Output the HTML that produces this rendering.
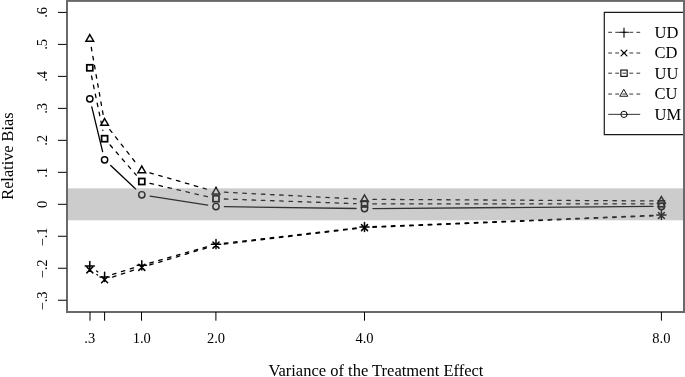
<!DOCTYPE html>
<html lang="en"><head><meta charset="utf-8"><title>Relative Bias vs Variance of the Treatment Effect</title>
<style>html,body{margin:0;padding:0;background:#fff}svg{display:block;will-change:transform;transform:translateZ(0)}</style></head>
<body>
<svg width="685" height="377" viewBox="0 0 685 377">
<rect width="685" height="377" fill="#fff"/>
<g fill="none" stroke="#000" stroke-width="1.3" stroke-linecap="round" stroke-linejoin="miter">
<g>
<line x1="91.78" y1="106.96" x2="102.62" y2="151.64"/>
<line x1="110.72" y1="165.55" x2="135.68" y2="189"/>
<line x1="150.1" y1="196.06" x2="207.7" y2="205.19"/>
<line x1="224.4" y1="206.62" x2="356.1" y2="208.48"/>
<line x1="372.9" y1="208.54" x2="653" y2="206.46"/>
</g>
<g stroke-width="1.45"><circle cx="89.8" cy="98.8" r="3.15"/><circle cx="104.6" cy="159.8" r="3.15"/><circle cx="141.8" cy="194.75" r="3.15"/><circle cx="216" cy="206.5" r="3.15"/><circle cx="364.5" cy="208.6" r="3.15"/><circle cx="661.4" cy="206.4" r="3.15"/></g>
<g stroke-dasharray="3.55 5.68">
<line x1="91.26" y1="47.27" x2="103.14" y2="114.73"/>
<line x1="109.78" y1="129.61" x2="136.62" y2="163.89"/>
<line x1="149.87" y1="172.82" x2="207.93" y2="189.48"/>
<line x1="224.39" y1="192.22" x2="356.11" y2="198.88"/>
<line x1="372.9" y1="199.35" x2="653" y2="200.95"/>
</g>
<g stroke-width="1.45"><path d="M89.8 34.55L93.65 41.23L85.95 41.23Z"/><path d="M104.6 118.55L108.45 125.22L100.75 125.22Z"/><path d="M141.8 166.05L145.65 172.72L137.95 172.72Z"/><path d="M216 187.35L219.85 194.03L212.15 194.03Z"/><path d="M364.5 194.85L368.35 201.53L360.65 201.53Z"/><path d="M661.4 196.55L665.25 203.22L657.55 203.22Z"/></g>
<g stroke-dasharray="3.55 5.68">
<line x1="91.52" y1="76.02" x2="102.88" y2="130.48"/>
<line x1="110.11" y1="145.04" x2="136.29" y2="175.16"/>
<line x1="149.98" y1="183.4" x2="207.82" y2="196.8"/>
<line x1="224.39" y1="199" x2="356.11" y2="203.65"/>
<line x1="372.9" y1="203.95" x2="653" y2="203.8"/>
</g>
<g stroke-width="1.75"><rect x="86.8" y="64.8" width="6" height="6"/><rect x="101.6" y="135.7" width="6" height="6"/><rect x="138.8" y="178.5" width="6" height="6"/><rect x="213" y="195.7" width="6" height="6"/><rect x="361.5" y="200.95" width="6" height="6"/><rect x="658.4" y="200.8" width="6" height="6"/></g>
<g stroke-dasharray="3.55 5.68">
<line x1="96.8" y1="274.54" x2="97.6" y2="275.06"/>
<line x1="112.58" y1="277.06" x2="133.82" y2="270.04"/>
<line x1="149.84" y1="264.98" x2="207.96" y2="247.52"/>
<line x1="224.34" y1="244.12" x2="356.16" y2="228.58"/>
<line x1="372.89" y1="227.26" x2="653.01" y2="215.84"/>
</g>
<g stroke-width="1.5"><path d="M86.8 266.9L92.8 272.9M86.8 272.9L92.8 266.9"/><path d="M101.6 276.7L107.6 282.7M101.6 282.7L107.6 276.7"/><path d="M138.8 264.4L144.8 270.4M138.8 270.4L144.8 264.4"/><path d="M213 242.1L219 248.1M213 248.1L219 242.1"/><path d="M361.5 224.6L367.5 230.6M361.5 230.6L367.5 224.6"/><path d="M658.4 212.5L664.4 218.5M658.4 218.5L664.4 212.5"/></g>
<g stroke-dasharray="3.55 5.68">
<line x1="96.56" y1="270.98" x2="97.84" y2="271.92"/>
<line x1="112.62" y1="274.4" x2="133.78" y2="267.8"/>
<line x1="149.88" y1="263" x2="207.92" y2="246.5"/>
<line x1="224.34" y1="243.23" x2="356.16" y2="227.97"/>
<line x1="372.89" y1="226.66" x2="653.01" y2="215.34"/>
</g>
<g stroke-width="1.5"><path d="M85.2 266H94.4M89.8 261.4V270.6"/><path d="M100 276.9H109.2M104.6 272.3V281.5"/><path d="M137.2 265.3H146.4M141.8 260.7V269.9"/><path d="M211.4 244.2H220.6M216 239.6V248.8"/><path d="M359.9 227H369.1M364.5 222.4V231.6"/><path d="M656.8 215H666M661.4 210.4V219.6"/></g>
</g>
<rect x="67" y="188.31" width="617" height="31.98" fill="#7f7f7f" fill-opacity="0.4"/>
<rect x="67" y="0.9" width="617" height="311.1" fill="none" stroke="#696969" stroke-width="2"/>
<g stroke="#000" stroke-width="1" fill="none">
<line x1="58" y1="12.42" x2="66.6" y2="12.42"/>
<line x1="58" y1="44.4" x2="66.6" y2="44.4"/>
<line x1="58" y1="76.38" x2="66.6" y2="76.38"/>
<line x1="58" y1="108.36" x2="66.6" y2="108.36"/>
<line x1="58" y1="140.34" x2="66.6" y2="140.34"/>
<line x1="58" y1="172.32" x2="66.6" y2="172.32"/>
<line x1="58" y1="204.3" x2="66.6" y2="204.3"/>
<line x1="58" y1="236.28" x2="66.6" y2="236.28"/>
<line x1="58" y1="268.26" x2="66.6" y2="268.26"/>
<line x1="58" y1="300.24" x2="66.6" y2="300.24"/>
<line x1="90" y1="312" x2="90" y2="320.7"/>
<line x1="104.6" y1="312" x2="104.6" y2="320.7"/>
<line x1="141.5" y1="312" x2="141.5" y2="320.7"/>
<line x1="215.9" y1="312" x2="215.9" y2="320.7"/>
<line x1="364.5" y1="312" x2="364.5" y2="320.7"/>
<line x1="661.4" y1="312" x2="661.4" y2="320.7"/>
</g>
<g font-family="'Liberation Serif', 'Times New Roman', serif" fill="#000">
<g font-size="14.5" text-anchor="middle">
<text transform="translate(47.4 12.42) rotate(-90)">.6</text>
<text transform="translate(47.4 44.4) rotate(-90)">.5</text>
<text transform="translate(47.4 76.38) rotate(-90)">.4</text>
<text transform="translate(47.4 108.36) rotate(-90)">.3</text>
<text transform="translate(47.4 140.34) rotate(-90)">.2</text>
<text transform="translate(47.4 172.32) rotate(-90)">.1</text>
<text transform="translate(47.4 204.3) rotate(-90)">0</text>
<text transform="translate(47.4 236.98) rotate(-90)">−.1</text>
<text transform="translate(47.4 268.96) rotate(-90)">−.2</text>
<text transform="translate(47.4 300.94) rotate(-90)">−.3</text>
<text x="89.8" y="342.6">.3</text>
<text x="141.8" y="342.6">1.0</text>
<text x="216" y="342.6">2.0</text>
<text x="364.5" y="342.6">4.0</text>
<text x="661.4" y="342.6">8.0</text>
</g>
<g font-size="16.5">
<text x="375.9" y="376" text-anchor="middle">Variance of the Treatment Effect</text>
<text transform="translate(12.7 156.1) rotate(-90)" text-anchor="middle" font-size="16.3">Relative Bias</text>
<text x="654.6" y="37.8">UD</text>
<text x="654.6" y="58.25">CD</text>
<text x="654.6" y="78.7">UU</text>
<text x="654.6" y="99.15">CU</text>
<text x="654.6" y="119.6">UM</text>
</g></g>
<path d="M683 12.45H604.3V134.7H683" fill="none" stroke="#1a1a1a" stroke-width="1.2"/>
<g fill="none" stroke="#000" stroke-width="0.8" stroke-linecap="round">
<line x1="608.6" y1="32.3" x2="639.8" y2="32.3" stroke-dasharray="3.0 4.05"/>
<g stroke-width="1.1"><path d="M619.5 32.3H628.5M624 28.15V37.15"/></g>
<line x1="608.6" y1="53" x2="639.8" y2="53" stroke-dasharray="3.0 4.05"/>
<g stroke-width="1.2"><path d="M621.1 50.1L626.9 55.9M621.1 55.9L626.9 50.1"/></g>
<line x1="608.6" y1="73.2" x2="639.8" y2="73.2" stroke-dasharray="3.0 4.05"/>
<g stroke-width="1.1"><rect x="620.85" y="70.05" width="6.3" height="6.3"/></g>
<line x1="608.6" y1="94.05" x2="639.8" y2="94.05" stroke-dasharray="3.0 4.05"/>
<g stroke-width="0.9"><path d="M624 89.65L627.81 96.25L620.19 96.25Z"/></g>
<line x1="608.6" y1="114.35" x2="639.8" y2="114.35"/>
<g stroke-width="0.95"><circle cx="624" cy="114.35" r="3.15"/></g>
</g>
</svg>
</body></html>
